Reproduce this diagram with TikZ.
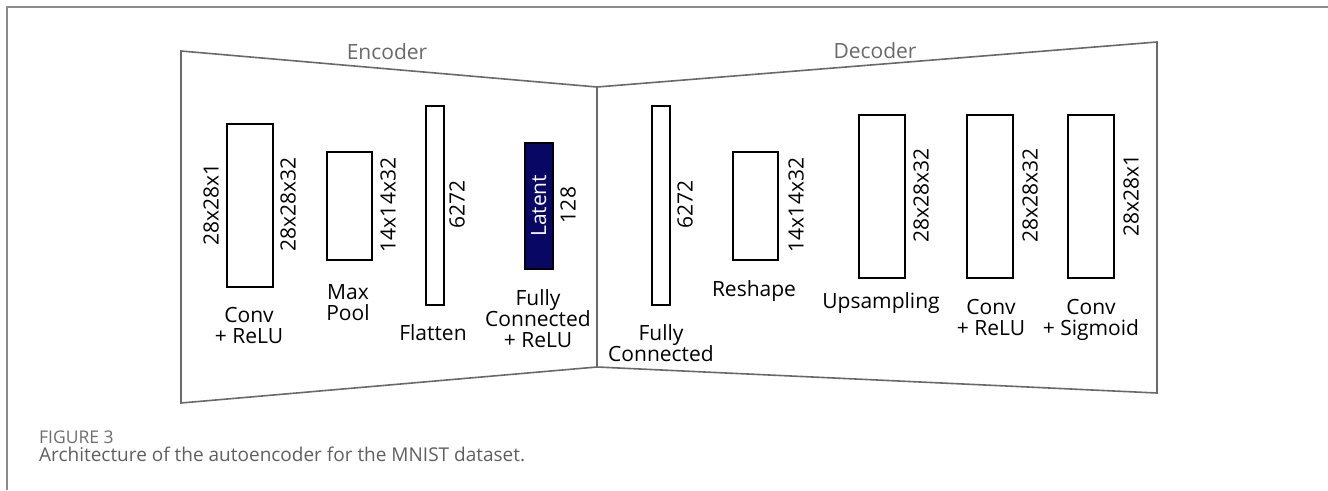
\documentclass[tikz,border=0pt]{standalone}
\usepackage{fontspec}
\setmainfont{Open Sans}
\definecolor{navyfill}{RGB}{8,8,100}
\definecolor{framegray}{RGB}{140,140,140}
\definecolor{trapgray}{RGB}{105,105,105}
\definecolor{capgray}{RGB}{95,95,95}
\definecolor{captitlegray}{RGB}{110,110,110}
\begin{document}
\begin{tikzpicture}[x=1pt,y=-1pt,
  layer/.style={draw=black, line width=1.5pt, fill=white, rectangle, inner sep=0pt, anchor=north west},
  latentbox/.style={layer, fill=navyfill},
  dim/.style={inner sep=0pt, rotate=90, font=\fontsize{21}{21}\selectfont},
  lbl/.style={inner sep=0pt, align=center, anchor=base, font=\fontsize{21}{21}\selectfont},
  sect/.style={inner sep=0pt, anchor=base, text=trapgray, font=\fontsize{21}{21}\selectfont},
  trap/.style={draw=trapgray, line width=1.6pt, line join=miter},
  frame/.style={draw=framegray, line width=2pt},
  captitle/.style={inner sep=0pt, anchor=base west, text=captitlegray, font=\fontsize{17.5}{17.5}\selectfont},
  captext/.style={inner sep=0pt, anchor=base west, text=capgray, font=\fontsize{19}{19}\selectfont}
]
\useasboundingbox (0,0) rectangle (1328,490);

% outer frame
\coordinate (fbl) at (6.5,490);
\coordinate (ftl) at (6.5,6.5);
\coordinate (ftr) at (1328,6.5);
\draw[frame] (fbl) -- (ftl) -- (ftr);

% trapezoids
\coordinate (etl) at (181,51);
\coordinate (ebl) at (181,403);
\coordinate (mt) at (597,87);
\coordinate (mb) at (597,367);
\coordinate (dtr) at (1157,42);
\coordinate (dbr) at (1157,393);
\draw[trap] (etl) -- (mt) -- (mb) -- (ebl) -- cycle;
\draw[trap] (mt) -- (dtr) -- (dbr) -- (mb);

\node[sect] (enc) at (387,59) {Encoder};
\node[sect] (dec) at (875,58) {Decoder};

% encoder layers
\node[layer, minimum width=46pt, minimum height=163pt] (conv1) at (226,123) {};
\node[dim] (conv1in) at (211,204.5) {28x28x1};
\node[dim] (conv1out) at (288,204.5) {28x28x32};
\node[lbl] (conv1lbl) at (249,343) {Conv\\+ ReLU};

\node[layer, minimum width=45pt, minimum height=108pt] (pool) at (326,151) {};
\node[dim] (poolout) at (388,205) {14x14x32};
\node[lbl] (poollbl) at (348,320) {Max\\Pool};

\node[layer, minimum width=18pt, minimum height=199pt] (flat) at (425,105) {};
\node[dim] (flatout) at (457,204.5) {6272};
\node[lbl] (flatlbl) at (433,340) {Flatten};

\node[latentbox, minimum width=28pt, minimum height=126pt] (lat) at (524,142) {};
\node[dim, text=white] (lattxt) at (lat.center) {Latent};
\node[dim] (latout) at (568,205) {128};
\node[lbl] (latlbl) at (538,347) {Fully\\Connected\\+ ReLU};

% decoder layers
\node[layer, minimum width=18pt, minimum height=199pt] (fc) at (651,105) {};
\node[dim] (fcout) at (685,204.5) {6272};
\node[lbl] (fclbl) at (661,361) {Fully\\Connected};

\node[layer, minimum width=45pt, minimum height=108pt] (resh) at (732,151) {};
\node[dim] (reshout) at (796,205) {14x14x32};
\node[lbl] (reshlbl) at (754,296) {Reshape};

\node[layer, minimum width=46pt, minimum height=163pt] (up) at (858,114) {};
\node[dim] (upout) at (921,195.5) {28x28x32};
\node[lbl] (uplbl) at (881,308) {Upsampling};

\node[layer, minimum width=46pt, minimum height=163pt] (conv2) at (966,114) {};
\node[dim] (conv2out) at (1030,195.5) {28x28x32};
\node[lbl] (conv2lbl) at (991,335) {Conv\\+ ReLU};

\node[layer, minimum width=46pt, minimum height=163pt] (conv3) at (1067,114) {};
\node[dim] (conv3out) at (1131,195.5) {28x28x1};
\node[lbl] (conv3lbl) at (1091,335) {Conv\\+ Sigmoid};

% caption
\node[captitle] (figno) at (39,443) {FIGURE 3};
\node[captext] (figcap) at (39,461) {Architecture of the autoencoder for the MNIST dataset.};
\end{tikzpicture}
\end{document}
